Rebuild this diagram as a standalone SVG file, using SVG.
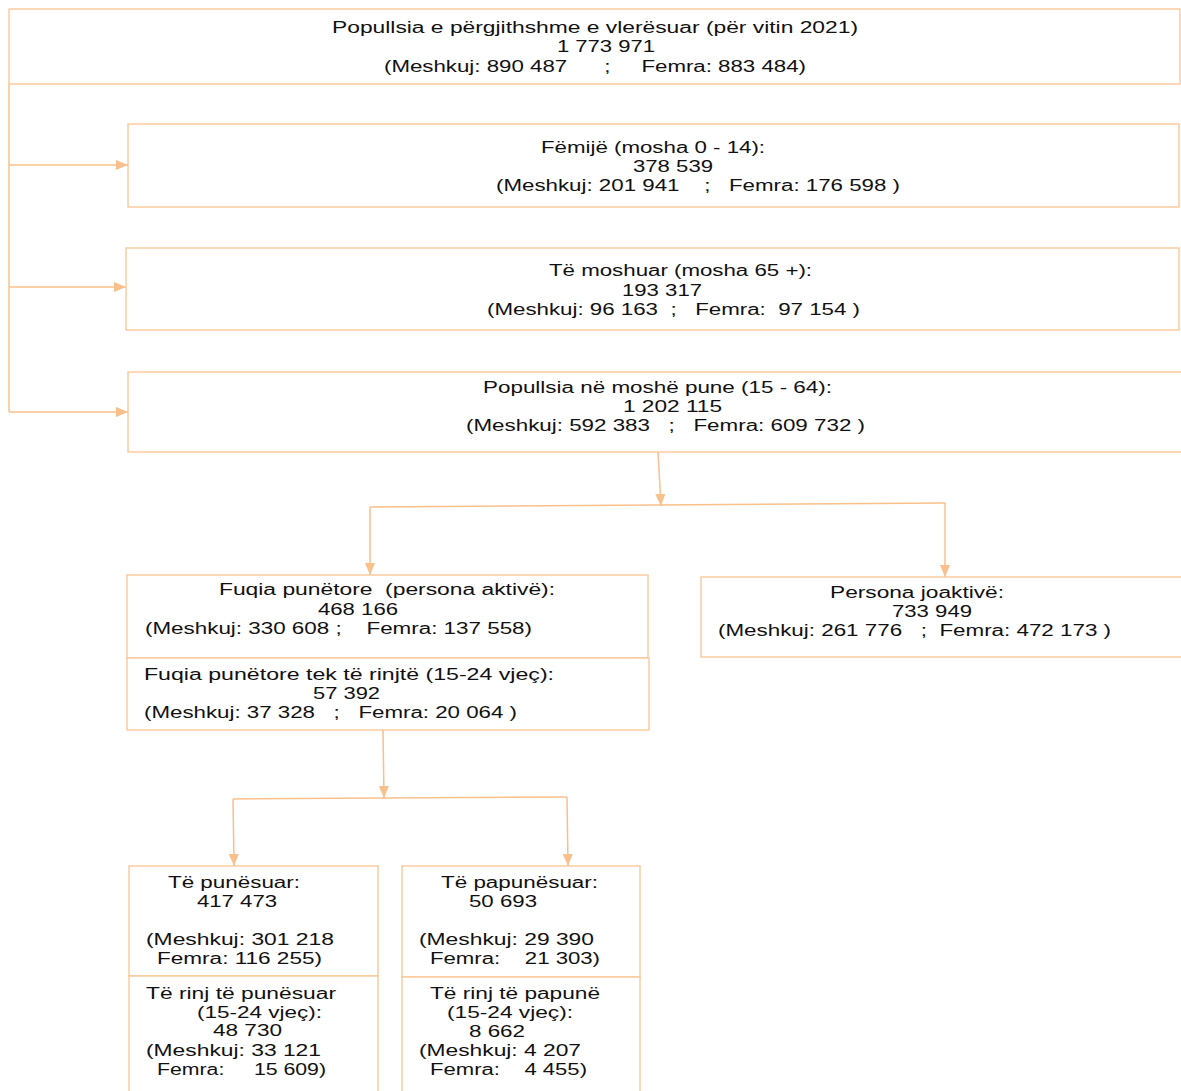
<svg xmlns="http://www.w3.org/2000/svg" width="1181" height="1091" viewBox="0 0 1181 1091">
<style>
.box{fill:#fff;stroke:#F9C593;stroke-width:1.3}
.c{fill:none;stroke:#F9C08C;stroke-width:1.5}
text{font-family:"Liberation Sans","Open Sans",sans-serif;font-size:16px;fill:#111;white-space:pre}
</style>
<defs>
<marker id="ah" markerUnits="userSpaceOnUse" markerWidth="12" markerHeight="10" refX="12" refY="5" orient="auto" viewBox="0 0 12 10">
<path d="M0,0 L12,5 L0,10 z" fill="#F9C08C"/>
</marker>
</defs>
<rect width="1181" height="1091" fill="#fff"/>
<g id="connectors">
<path class="c" d="M9,84 L9,412"/>
<path class="c" d="M9,165 L128,165" marker-end="url(#ah)"/>
<path class="c" d="M9,287 L126,287" marker-end="url(#ah)"/>
<path class="c" d="M9,412 L128,412" marker-end="url(#ah)"/>
<path class="c" d="M658,452 L661,506" marker-end="url(#ah)"/>
<path class="c" d="M370,507 L945,503"/>
<path class="c" d="M370,507 L370,575" marker-end="url(#ah)"/>
<path class="c" d="M945,503 L945,577" marker-end="url(#ah)"/>
<path class="c" d="M383,730 L384,798" marker-end="url(#ah)"/>
<path class="c" d="M233,799 L567,797"/>
<path class="c" d="M233,799 L234,866" marker-end="url(#ah)"/>
<path class="c" d="M567,797 L568,866" marker-end="url(#ah)"/>
</g>
<g id="total">
<rect class="box" x="9" y="9" width="1171" height="75"/>
<text x="332" y="33" textLength="526" lengthAdjust="spacingAndGlyphs">Popullsia e përgjithshme e vlerësuar (për vitin 2021)</text>
<text x="557" y="52" textLength="98" lengthAdjust="spacingAndGlyphs">1 773 971</text>
<text x="384" y="72" textLength="422" lengthAdjust="spacingAndGlyphs">(Meshkuj: 890 487      ;     Femra: 883 484)</text>
</g>
<g id="femije">
<rect class="box" x="128" y="124" width="1051" height="83"/>
<text x="541" y="153" textLength="224" lengthAdjust="spacingAndGlyphs">Fëmijë (mosha 0 - 14):</text>
<text x="633" y="172" textLength="80" lengthAdjust="spacingAndGlyphs">378 539</text>
<text x="496" y="191" textLength="404" lengthAdjust="spacingAndGlyphs">(Meshkuj: 201 941    ;   Femra: 176 598 )</text>
</g>
<g id="moshuar">
<rect class="box" x="126" y="248" width="1053" height="82"/>
<text x="549" y="276" textLength="263" lengthAdjust="spacingAndGlyphs">Të moshuar (mosha 65 +):</text>
<text x="622" y="296" textLength="80" lengthAdjust="spacingAndGlyphs">193 317</text>
<text x="487" y="315" textLength="373" lengthAdjust="spacingAndGlyphs">(Meshkuj: 96 163  ;   Femra:  97 154 )</text>
</g>
<g id="pune">
<rect class="box" x="128" y="372" width="1060" height="80"/>
<text x="483" y="393" textLength="349" lengthAdjust="spacingAndGlyphs">Popullsia në moshë pune (15 - 64):</text>
<text x="623" y="412" textLength="99" lengthAdjust="spacingAndGlyphs">1 202 115</text>
<text x="466" y="431" textLength="399" lengthAdjust="spacingAndGlyphs">(Meshkuj: 592 383   ;   Femra: 609 732 )</text>
</g>
<g id="fuqia">
<rect class="box" x="127" y="575" width="521" height="83"/>
<rect class="box" x="127" y="658" width="522" height="72"/>
<text x="219" y="595" textLength="336" lengthAdjust="spacingAndGlyphs">Fuqia punëtore  (persona aktivë):</text>
<text x="318" y="615" textLength="80" lengthAdjust="spacingAndGlyphs">468 166</text>
<text x="145" y="634" textLength="387" lengthAdjust="spacingAndGlyphs">(Meshkuj: 330 608 ;    Femra: 137 558)</text>
<text x="144" y="680" textLength="410" lengthAdjust="spacingAndGlyphs">Fuqia punëtore tek të rinjtë (15-24 vjeç):</text>
<text x="313" y="699" textLength="67" lengthAdjust="spacingAndGlyphs">57 392</text>
<text x="144" y="718" textLength="373" lengthAdjust="spacingAndGlyphs">(Meshkuj: 37 328   ;   Femra: 20 064 )</text>
</g>
<g id="joaktive">
<rect class="box" x="701" y="577" width="490" height="80"/>
<text x="830" y="598" textLength="174" lengthAdjust="spacingAndGlyphs">Persona joaktivë:</text>
<text x="892" y="617" textLength="80" lengthAdjust="spacingAndGlyphs">733 949</text>
<text x="718" y="636" textLength="393" lengthAdjust="spacingAndGlyphs">(Meshkuj: 261 776   ;  Femra: 472 173 )</text>
</g>
<g id="punesuar">
<rect class="box" x="129" y="866" width="249" height="110"/>
<rect class="box" x="129" y="976" width="249" height="130"/>
<text x="168" y="888" textLength="132" lengthAdjust="spacingAndGlyphs">Të punësuar:</text>
<text x="197" y="907" textLength="80" lengthAdjust="spacingAndGlyphs">417 473</text>
<text x="146" y="945" textLength="188" lengthAdjust="spacingAndGlyphs">(Meshkuj: 301 218</text>
<text x="157" y="964" textLength="165" lengthAdjust="spacingAndGlyphs">Femra: 116 255)</text>
<text x="146" y="999" textLength="190" lengthAdjust="spacingAndGlyphs">Të rinj të punësuar</text>
<text x="197" y="1018" textLength="125" lengthAdjust="spacingAndGlyphs">(15-24 vjeç):</text>
<text x="213" y="1036" textLength="69" lengthAdjust="spacingAndGlyphs">48 730</text>
<text x="146" y="1056" textLength="175" lengthAdjust="spacingAndGlyphs">(Meshkuj: 33 121</text>
<text x="157" y="1075" textLength="169" lengthAdjust="spacingAndGlyphs">Femra:     15 609)</text>
</g>
<g id="papunesuar">
<rect class="box" x="402" y="866" width="238" height="111"/>
<rect class="box" x="402" y="977" width="238" height="130"/>
<text x="441" y="888" textLength="157" lengthAdjust="spacingAndGlyphs">Të papunësuar:</text>
<text x="469" y="907" textLength="68" lengthAdjust="spacingAndGlyphs">50 693</text>
<text x="419" y="945" textLength="175" lengthAdjust="spacingAndGlyphs">(Meshkuj: 29 390</text>
<text x="430" y="964" textLength="170" lengthAdjust="spacingAndGlyphs">Femra:    21 303)</text>
<text x="430" y="999" textLength="170" lengthAdjust="spacingAndGlyphs">Të rinj të papunë</text>
<text x="447" y="1018" textLength="126" lengthAdjust="spacingAndGlyphs">(15-24 vjeç):</text>
<text x="469" y="1037" textLength="56" lengthAdjust="spacingAndGlyphs">8 662</text>
<text x="419" y="1056" textLength="162" lengthAdjust="spacingAndGlyphs">(Meshkuj: 4 207</text>
<text x="430" y="1075" textLength="157" lengthAdjust="spacingAndGlyphs">Femra:    4 455)</text>
</g>
</svg>
